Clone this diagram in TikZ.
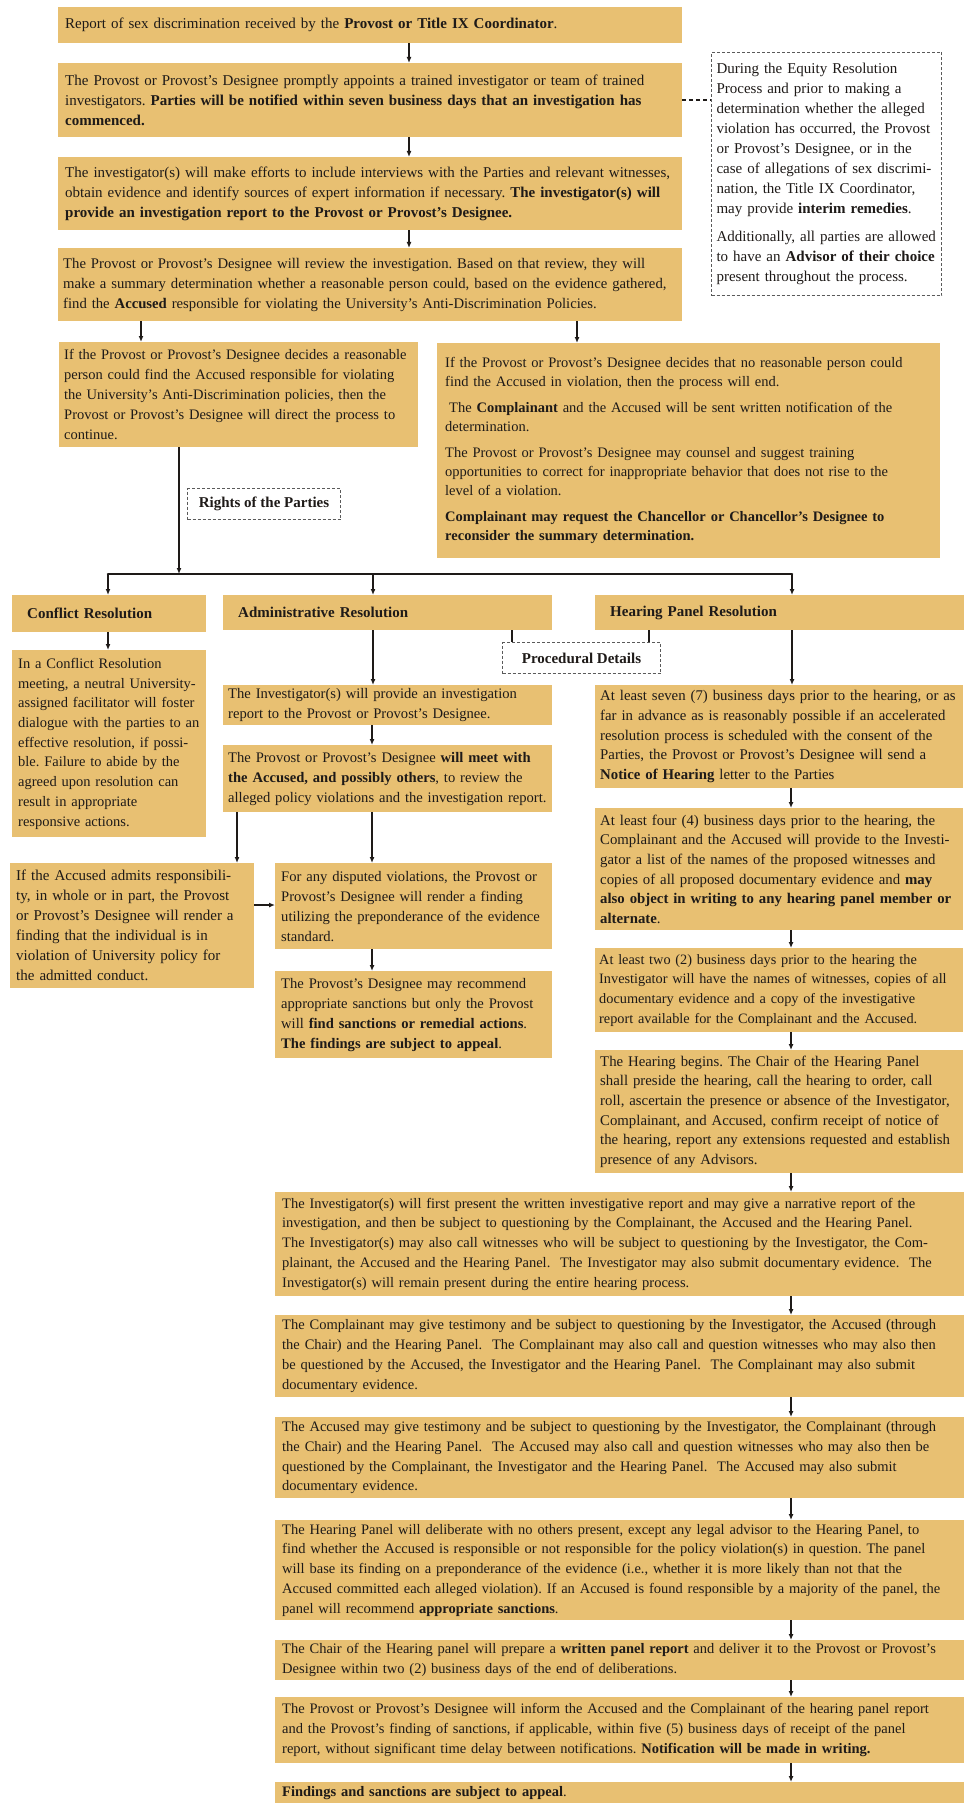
\documentclass[tikz,border=0pt]{standalone}
\usepackage{fontspec}
\setmainfont{Liberation Serif}
\usetikzlibrary{arrows.meta}
\definecolor{boxc}{RGB}{232,192,114}
\definecolor{inkc}{RGB}{30,26,24}
\definecolor{dashc}{RGB}{90,90,90}
\frenchspacing
\newcommand\fA{\fontsize{15pt}{20pt}\selectfont}
\newcommand\fB{\fontsize{14.5pt}{19pt}\selectfont}
\newcommand\fC{\fontsize{14.5pt}{19.8pt}\selectfont}
\newcommand\fD{\fontsize{14.8pt}{19.7pt}\selectfont}
\newcommand\fE{\fontsize{14.6pt}{20pt}\selectfont}
\newcommand\fF{\fontsize{14.5pt}{19.7pt}\selectfont}
\newcommand\fG{\fontsize{14.5pt}{20pt}\selectfont}
\newcommand\fH{\fontsize{14.7pt}{20pt}\selectfont}
\newcommand\fK{\fontsize{14.3pt}{19.7pt}\selectfont}
\tikzset{
  tanbox/.style={fill=boxc, anchor=north west, inner xsep=7pt, inner ysep=2pt, align=left, text=inkc},
  dashbox/.style={draw=dashc, fill=white, dash pattern=on 3pt off 2pt, line width=1pt, anchor=north west, align=center, inner sep=2pt, text=inkc, font=\fA\bfseries},
  notebox/.style={dashbox, align=left, font=\fA, inner xsep=5pt, inner ysep=2pt},
  headbox/.style={tanbox, inner xsep=15pt, font=\fA\bfseries},
  arw/.style={draw=inkc, line width=1.4pt, -{Latex[length=6pt,width=5pt]}},
  longarw/.style={arw, line width=1.8pt},
  busline/.style={draw=inkc, line width=2.6pt, line cap=round},
  tie/.style={draw=inkc, line width=1.4pt},
  dashtie/.style={draw=inkc, line width=1.4pt, dash pattern=on 4pt off 3pt}
}
\begin{document}
\begin{tikzpicture}[x=1pt,y=-1pt]
\useasboundingbox[fill=white] (0,0) rectangle (964,1811);

% ---------- top chain ----------
\node[tanbox, font=\fA, text width=610pt, minimum height=36pt] (b1) at (58,7)
 {Report of sex discrimination received by the \textbf{Provost or Title IX Coordinator}.};
\node[tanbox, font=\fA, text width=610pt, minimum height=74pt] (b2) at (58,63)
 {The Provost or Provost's Designee promptly appoints a trained investigator or team of trained\\
  investigators. \textbf{Parties will be notified within seven business days that an investigation has}\\
  \textbf{commenced.}};
\node[tanbox, font=\fA, text width=610pt, minimum height=73pt] (b3) at (58,157)
 {The investigator(s) will make efforts to include interviews with the Parties and relevant witnesses,\\
  obtain evidence and identify sources of expert information if necessary. \textbf{The investigator(s) will}\\
  \textbf{provide an investigation report to the Provost or Provost's Designee.}};
\node[tanbox, font=\fH, inner xsep=5pt, text width=614pt, minimum height=73pt] (b4) at (58,248)
 {The Provost or Provost's Designee will review the investigation. Based on that review, they will\\
  make a summary determination whether a reasonable person could, based on the evidence gathered,\\
  find the \textbf{Accused} responsible for violating the University's Anti-Discrimination Policies.};

\node[notebox, text width=220pt, minimum height=243pt] (d1) at (711,52)
 {During the Equity Resolution\\
  Process and prior to making a\\
  determination whether the alleged\\
  violation has occurred, the Provost\\
  or Provost's Designee, or in the\\
  case of allegations of sex discrimi-\\
  nation, the Title IX Coordinator,\\
  may provide \textbf{interim remedies}.\\[8pt]
  Additionally, all parties are allowed\\
  to have an \textbf{Advisor of their choice}\\
  present throughout the process.};

% ---------- decision ----------
\node[tanbox, font=\fG, inner xsep=5pt, text width=349pt, minimum height=105pt] (b5a) at (59,342)
 {If the Provost or Provost's Designee decides a reasonable\\
  person could find the Accused responsible for violating\\
  the University's Anti-Discrimination policies, then the\\
  Provost or Provost's Designee will direct the process to\\
  continue.};
\node[tanbox, font=\fB, inner xsep=8pt, text width=487pt, minimum height=215pt] (b5b) at (437,343)
 {If the Provost or Provost's Designee decides that no reasonable person could\\
  find the Accused in violation, then the process will end.\\[7pt]
  \hspace*{4pt}The \textbf{Complainant} and the Accused will be sent written notification of the\\
  determination.\\[7pt]
  The Provost or Provost's Designee may counsel and suggest training\\
  opportunities to correct for inappropriate behavior that does not rise to the\\
  level of a violation.\\[7pt]
  \textbf{Complainant may request the Chancellor or Chancellor's Designee to}\\
  \textbf{reconsider the summary determination.}};

\node[dashbox, minimum width=153pt, minimum height=31pt] (rights) at (187,488) {Rights of the Parties};

% ---------- three tracks ----------
\node[headbox, text width=164pt, minimum height=37pt] (conflh) at (12,595) {Conflict Resolution};
\node[headbox, text width=299pt, minimum height=35pt] (adminh) at (223,595) {Administrative Resolution};
\node[headbox, text width=339pt, minimum height=35pt] (hearh) at (595,595) {Hearing Panel Resolution};
\node[dashbox, minimum width=158pt, minimum height=31pt] (proc) at (502,642) {Procedural Details};

\node[tanbox, font=\fF, inner xsep=6pt, text width=182pt, minimum height=187pt] (confl) at (12,650)
 {In a Conflict Resolution\\
  meeting, a neutral University-\\
  assigned facilitator will foster\\
  dialogue with the parties to an\\
  effective resolution, if possi-\\
  ble. Failure to abide by the\\
  agreed upon resolution can\\
  result in appropriate\\
  responsive actions.};

% administrative column
\node[tanbox, font=\fE, inner xsep=5pt, text width=319pt, minimum height=40pt] (inv) at (223,685)
 {The Investigator(s) will provide an investigation\\
  report to the Provost or Provost's Designee.};
\node[tanbox, font=\fE, inner xsep=5pt, text width=319pt, minimum height=67pt] (meet) at (223,745)
 {The Provost or Provost's Designee \textbf{will meet with}\\
  \textbf{the Accused, and possibly others}, to review the\\
  alleged policy violations and the investigation report.};
\node[tanbox, font=\fA, inner xsep=6pt, text width=232pt, minimum height=125pt] (admits) at (10,863)
 {If the Accused admits responsibili-\\
  ty, in whole or in part, the Provost\\
  or Provost's Designee will render a\\
  finding that the individual is in\\
  violation of University policy for\\
  the admitted conduct.};
\node[tanbox, font=\fE, inner xsep=6pt, text width=265pt, minimum height=86pt] (disp) at (275,863)
 {For any disputed violations, the Provost or\\
  Provost's Designee will render a finding\\
  utilizing the preponderance of the evidence\\
  standard.};
\node[tanbox, font=\fE, inner xsep=6pt, text width=265pt, minimum height=87pt] (sanc) at (275,971)
 {The Provost's Designee may recommend\\
  appropriate sanctions but only the Provost\\
  will \textbf{find sanctions or remedial actions}.\\
  \textbf{The findings are subject to appeal}.};

% hearing column
\node[tanbox, font=\fD, inner xsep=5pt, text width=358pt, minimum height=103pt] (h1) at (595,685)
 {At least seven (7) business days prior to the hearing, or as\\
  far in advance as is reasonably possible if an accelerated\\
  resolution process is scheduled with the consent of the\\
  Parties, the Provost or Provost's Designee will send a\\
  \textbf{Notice of Hearing} letter to the Parties};
\node[tanbox, font=\fD, inner xsep=5pt, text width=358pt, minimum height=122pt] (h2) at (595,808)
 {At least four (4) business days prior to the hearing, the\\
  Complainant and the Accused will provide to the Investi-\\
  gator a list of the names of the proposed witnesses and\\
  copies of all proposed documentary evidence and \textbf{may}\\
  \textbf{also object in writing to any hearing panel member or}\\
  \textbf{alternate}.};
\node[tanbox, font=\fK, inner xsep=4pt, text width=360pt, minimum height=84pt] (h3) at (595,948)
 {At least two (2) business days prior to the hearing the\\
  Investigator will have the names of witnesses, copies of all\\
  documentary evidence and a copy of the investigative\\
  report available for the Complainant and the Accused.};
\node[tanbox, font=\fD, inner xsep=5pt, text width=358pt, minimum height=123pt] (h4) at (595,1050)
 {The Hearing begins. The Chair of the Hearing Panel\\
  shall preside the hearing, call the hearing to order, call\\
  roll, ascertain the presence or absence of the Investigator,\\
  Complainant, and Accused, confirm receipt of notice of\\
  the hearing, report any extensions requested and establish\\
  presence of any Advisors.};

% wide boxes
\node[tanbox, font=\fC, text width=675pt, minimum height=104pt] (w1) at (275,1192)
 {The Investigator(s) will first present the written investigative report and may give a narrative report of the\\
  investigation, and then be subject to questioning by the Complainant, the Accused and the Hearing Panel.\\
  The Investigator(s) may also call witnesses who will be subject to questioning by the Investigator, the Com-\\
  plainant, the Accused and the Hearing Panel.\ \ The Investigator may also submit documentary evidence.\ \ The\\
  Investigator(s) will remain present during the entire hearing process.};
\node[tanbox, font=\fC, text width=675pt, minimum height=82pt] (w2) at (275,1315)
 {The Complainant may give testimony and be subject to questioning by the Investigator, the Accused (through\\
  the Chair) and the Hearing Panel.\ \ The Complainant may also call and question witnesses who may also then\\
  be questioned by the Accused, the Investigator and the Hearing Panel.\ \ The Complainant may also submit\\
  documentary evidence.};
\node[tanbox, font=\fC, text width=675pt, minimum height=81pt] (w3) at (275,1417)
 {The Accused may give testimony and be subject to questioning by the Investigator, the Complainant (through\\
  the Chair) and the Hearing Panel.\ \ The Accused may also call and question witnesses who may also then be\\
  questioned by the Complainant, the Investigator and the Hearing Panel.\ \ The Accused may also submit\\
  documentary evidence.};
\node[tanbox, font=\fC, text width=675pt, minimum height=100pt] (w4) at (275,1520)
 {The Hearing Panel will deliberate with no others present, except any legal advisor to the Hearing Panel, to\\
  find whether the Accused is responsible or not responsible for the policy violation(s) in question. The panel\\
  will base its finding on a preponderance of the evidence (i.e., whether it is more likely than not that the\\
  Accused committed each alleged violation). If an Accused is found responsible by a majority of the panel, the\\
  panel will recommend \textbf{appropriate sanctions}.};
\node[tanbox, font=\fC, text width=675pt, minimum height=40pt] (w5) at (275,1640)
 {The Chair of the Hearing panel will prepare a \textbf{written panel report} and deliver it to the Provost or Provost's\\
  Designee within two (2) business days of the end of deliberations.};
\node[tanbox, font=\fC, text width=675pt, minimum height=66pt] (w6) at (275,1697)
 {The Provost or Provost's Designee will inform the Accused and the Complainant of the hearing panel report\\
  and the Provost's finding of sanctions, if applicable, within five (5) business days of receipt of the panel\\
  report, without significant time delay between notifications. \textbf{Notification will be made in writing.}};
\node[tanbox, font=\fC, text width=675pt, minimum height=21pt] (w7) at (275,1782)
 {\textbf{Findings and sanctions are subject to appeal}.};

% ---------- helper coordinates ----------
\coordinate (xTop) at (409,0);
\coordinate (xL) at (141,0);
\coordinate (xR) at (577,0);
\coordinate (busL) at (108,574);
\coordinate (busM) at (179,574);
\coordinate (busA) at (373,574);
\coordinate (busR) at (792,574);
\coordinate (xAd) at (372,0);
\coordinate (xAdm) at (237,0);
\coordinate (xH) at (791,0);
\coordinate (xP1) at (512,0);
\coordinate (xP2) at (649,0);
\coordinate (yAdm) at (0,905);

% ---------- connectors ----------
\draw[arw] (b1.south -| xTop) -- (b2.north -| xTop);
\draw[arw] (b2.south -| xTop) -- (b3.north -| xTop);
\draw[arw] (b3.south -| xTop) -- (b4.north -| xTop);
\draw[dashtie] (b2.east) -- (b2.east -| d1.west);
\draw[arw] (b4.south -| xL) -- (b5a.north -| xL);
\draw[arw] (b4.south -| xR) -- (b5b.north -| xR);

\draw[longarw] (b5a.south -| busM) -- (busM);
\draw[busline] (busL) -- (busR);
\draw[arw] (busL) -- (conflh.north -| busL);
\draw[arw] (busA) -- (adminh.north -| busA);
\draw[arw] (busR) -- (hearh.north -| busR);

\draw[tie] (adminh.south -| xP1) -- (proc.north -| xP1);
\draw[tie] (hearh.south -| xP2) -- (proc.north -| xP2);

\draw[arw] (conflh.south -| busL) -- (confl.north -| busL);

\draw[longarw] (adminh.south -| busA) -- (inv.north -| busA);
\draw[arw] (inv.south -| xAd) -- (meet.north -| xAd);
\draw[longarw] (meet.south -| xAdm) -- (admits.north -| xAdm);
\draw[longarw] (meet.south -| xAd) -- (disp.north -| xAd);
\draw[arw] (admits.east |- yAdm) -- (disp.west |- yAdm);
\draw[arw] (disp.south -| xAd) -- (sanc.north -| xAd);

\draw[longarw] (hearh.south -| busR) -- (h1.north -| busR);
\draw[arw] (h1.south -| xH) -- (h2.north -| xH);
\draw[arw] (h2.south -| xH) -- (h3.north -| xH);
\draw[arw] (h3.south -| xH) -- (h4.north -| xH);
\draw[arw] (h4.south -| xH) -- (w1.north -| xH);
\draw[arw] (w1.south -| xH) -- (w2.north -| xH);
\draw[arw] (w2.south -| xH) -- (w3.north -| xH);
\draw[arw] (w3.south -| xH) -- (w4.north -| xH);
\draw[arw] (w4.south -| xH) -- (w5.north -| xH);
\draw[arw] (w5.south -| xH) -- (w6.north -| xH);
\draw[arw] (w6.south -| xH) -- (w7.north -| xH);
\end{tikzpicture}
\end{document}
